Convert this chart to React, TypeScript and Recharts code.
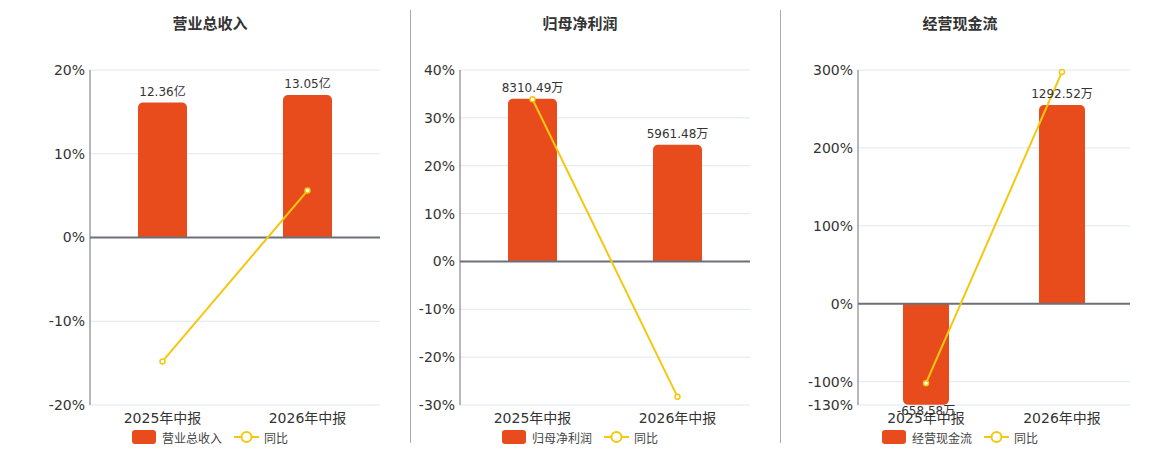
import {
  Bar,
  CartesianGrid,
  ComposedChart,
  LabelList,
  Legend,
  Line,
  ReferenceLine,
  XAxis,
  YAxis,
} from "recharts";

const categories = ["2025年中报", "2026年中报"];

const revenueValues = [12.36, 13.05];
const revenueYoY = [-14.8, 5.6];

const profitValues = [8310.49, 5961.48];
const profitYoY = [33.9, -28.3];

const cashValues = [-658.58, 1292.52];
const cashYoY = [-102, 297.5];

const revenueTicks = [-20, -10, 0, 10, 20];
const profitTicks = [-30, -20, -10, 0, 10, 20, 30, 40];
const cashTicks = [-130, -100, 0, 100, 200, 300];

const BAR_COLOR = "#e84c1d";
const LINE_COLOR = "#f3c80f";
const AXIS_COLOR = "#6e7079";
const GRID_COLOR = "#e0e6f1";
const TEXT_COLOR = "#333";
const FONT = "'DejaVu Sans', 'Noto Sans CJK SC', sans-serif";

type Panel = {
  title: string;
  unit: string;
  values: number[];
  yoy: number[];
  ticks: number[];
  barDomain: [number, number];
  left: number;
  width: number;
  axisWidth: number;
  rightMargin: number;
  barSize: number;
};

const panels: Panel[] = [
  {
    title: "营业总收入",
    unit: "亿",
    values: revenueValues,
    yoy: revenueYoY,
    ticks: revenueTicks,
    barDomain: [-15.34, 15.34],
    left: 0,
    width: 420,
    axisWidth: 90,
    rightMargin: 40,
    barSize: 49,
  },
  {
    title: "归母净利润",
    unit: "万",
    values: profitValues,
    yoy: profitYoY,
    ticks: profitTicks,
    barDomain: [-7339, 9786],
    left: 410,
    width: 340,
    axisWidth: 50,
    rightMargin: 0,
    barSize: 49,
  },
  {
    title: "经营现金流",
    unit: "万",
    values: cashValues,
    yoy: cashYoY,
    ticks: cashTicks,
    barDomain: [-660, 1520],
    left: 780,
    width: 360,
    axisWidth: 78,
    rightMargin: 10,
    barSize: 46,
  },
];

function valueLabel(unit: string) {
  return (props: any) => {
    const { x, y, width, height, value } = props;
    const top = Math.min(y, y + height);
    const bottom = Math.max(y, y + height);
    const neg = Number(value) < 0;
    return (
      <text
        x={x + width / 2}
        y={neg ? bottom + 10 : top - 7}
        textAnchor="middle"
        fontSize={12}
        fill={TEXT_COLOR}
        fontFamily={FONT}
      >
        {Number(value).toFixed(2) + unit}
      </text>
    );
  };
}

// bar entry first, then the 同比 line, like the original
function LegendContent(props: any) {
  const items = [...(props.payload || [])].sort(
    (a: any, b: any) => (a.type === "line" ? 1 : 0) - (b.type === "line" ? 1 : 0)
  );
  return (
    <div
      style={{
        display: "flex",
        justifyContent: "center",
        alignItems: "center",
        fontSize: 12,
        color: "#444",
        fontFamily: FONT,
        height: 16,
      }}
    >
      {items.map((item: any, i: number) => (
        <div key={i} style={{ display: "flex", alignItems: "center", marginLeft: i ? 12 : 0 }}>
          {item.type === "line" ? (
            <svg width={25} height={14} style={{ marginRight: 5 }}>
              <line x1={0} y1={7} x2={25} y2={7} stroke={LINE_COLOR} strokeWidth={2} />
              <circle cx={12.5} cy={7} r={5} fill="#fff" stroke={LINE_COLOR} strokeWidth={2} />
            </svg>
          ) : (
            <span
              style={{
                display: "inline-block",
                width: 24,
                height: 14,
                borderRadius: 3,
                background: BAR_COLOR,
                marginRight: 6,
              }}
            />
          )}
          <span>{item.value}</span>
        </div>
      ))}
    </div>
  );
}

function PanelChart({ panel }: { panel: Panel }) {
  const data = categories.map((name, i) => ({
    name,
    value: panel.values[i],
    yoy: panel.yoy[i],
  }));
  const lo = panel.ticks[0];
  const hi = panel.ticks[panel.ticks.length - 1];

  return (
    <div style={{ position: "absolute", left: panel.left, top: 0, width: panel.width, height: 450 }}>
      <div
        style={{
          position: "absolute",
          top: 12,
          left: 0,
          width: panel.width,
          textAlign: "center",
          fontSize: 15,
          fontWeight: "bold",
          color: TEXT_COLOR,
          fontFamily: FONT,
        }}
      >
        {panel.title}
      </div>
      <ComposedChart
        width={panel.width}
        height={450}
        data={data}
        margin={{ top: 70, right: panel.rightMargin, bottom: 5, left: 0 }}
        style={{ fontFamily: FONT }}
      >
        <CartesianGrid vertical={false} stroke={GRID_COLOR} yAxisId="pct" />
        <XAxis
          dataKey="name"
          axisLine={false}
          tickLine={false}
          tickSize={0}
          tickMargin={8}
          height={24}
          tick={{ fill: TEXT_COLOR, fontSize: 14 }}
        />
        <YAxis
          yAxisId="pct"
          domain={[lo, hi]}
          ticks={panel.ticks}
          interval={0}
          width={panel.axisWidth}
          tickFormatter={(v) => `${v}%`}
          axisLine={{ stroke: AXIS_COLOR }}
          tickLine={false}
          tickSize={0}
          tickMargin={5}
          tick={{ fill: TEXT_COLOR, fontSize: 14 }}
        />
        <YAxis yAxisId="amt" orientation="right" domain={panel.barDomain} hide />
        <Bar
          yAxisId="amt"
          dataKey="value"
          name={panel.title}
          fill={BAR_COLOR}
          barSize={panel.barSize}
          radius={[5, 5, 0, 0]}
          isAnimationActive={false}
          legendType="rect"
        >
          <LabelList dataKey="value" content={valueLabel(panel.unit)} />
        </Bar>
        <ReferenceLine yAxisId="pct" y={0} stroke={AXIS_COLOR} strokeWidth={2} />
        <Line
          yAxisId="pct"
          dataKey="yoy"
          name="同比"
          type="linear"
          stroke={LINE_COLOR}
          strokeWidth={2}
          dot={{ r: 2.5, fill: "#fff", stroke: LINE_COLOR, strokeWidth: 1.5 }}
          activeDot={false}
          isAnimationActive={false}
          legendType="line"
        />
        <Legend
          verticalAlign="bottom"
          height={16}
          width={panel.width}
          wrapperStyle={{ left: 0 }}
          content={LegendContent}
        />
      </ComposedChart>
    </div>
  );
}

export default function App() {
  return (
    <div style={{ position: "absolute", left: 0, top: 0, width: 1160, height: 450, background: "#fff" }}>
      {panels.map((p) => (
        <PanelChart key={p.title} panel={p} />
      ))}
      <div style={{ position: "absolute", left: 410, top: 10, width: 1, height: 433, background: "#aaa" }} />
      <div style={{ position: "absolute", left: 780, top: 10, width: 1, height: 433, background: "#aaa" }} />
    </div>
  );
}
